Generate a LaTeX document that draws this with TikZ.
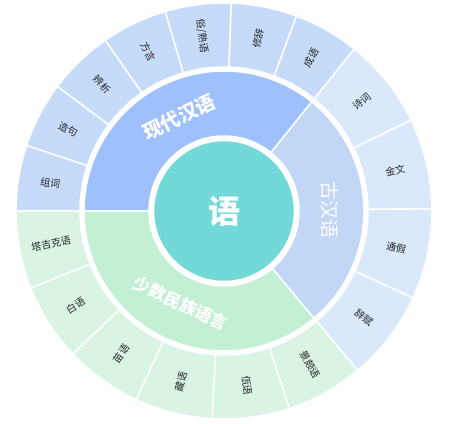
\documentclass[tikz,border=0pt]{standalone}
\usepackage{fontspec}
\setmainfont{Noto Sans CJK SC}
\usepackage{xcolor}
\usepackage{tikz}
\usetikzlibrary{positioning}
\definecolor{yucenter}{HTML}{72D9D8}
\definecolor{modernmid}{HTML}{9EC0FC}
\definecolor{modernleaf}{HTML}{C6DBFA}
\definecolor{classicmid}{HTML}{C2D6F5}
\definecolor{classicleaf}{HTML}{DAE8FC}
\definecolor{minormid}{HTML}{C3EFD4}
\definecolor{minorleaf}{HTML}{D9F4E3}

\tikzset{
  leaflabel/.style={font=\fontsize{10}{10}\selectfont, text=black!85, inner sep=1pt},
  ringlabel/.style={font=\fontsize{19.5}{20}\selectfont\bfseries, text=white, inner sep=1pt},
}

% sector: colour, start angle, end angle, inner radius, outer radius
\newcommand{\yuSector}[5]{%
  \fill[#1, draw=white, line width=1.5pt] (#2:#4pt) arc[start angle=#2, end angle=#3, radius=#4pt]
    -- (#3:#5pt) arc[start angle=#3, end angle=#2, radius=#5pt] -- cycle;}

\begin{document}
\begin{tikzpicture}
    \useasboundingbox (-224pt,-212pt) rectangle (230pt,211pt);

    % 现代汉语
    \yuSector{modernmid}{180}{51.2}{75}{140}
    \foreach \lab [count=\i from 0] in {组词,造句,辨析,方言,俗/熟语,修辞,成语} {
        \pgfmathsetmacro\aS{180-18.4*\i}
        \pgfmathsetmacro\aE{\aS-18.4}
        \pgfmathsetmacro\aM{\aS-9.2}
        \pgfmathsetmacro\rot{cos(\aM)<0 ? \aM+180 : \aM}
        \yuSector{modernleaf}{\aS}{\aE}{144}{208}
        \node[leaflabel, rotate=\rot] (m\i) at (\aM:176pt) {\lab};
    }

    % 古汉语
    \yuSector{classicmid}{51.2}{-50}{75}{140}
    \foreach \lab [count=\i from 0] in {诗词,金文,通假,辞赋} {
        \pgfmathsetmacro\aS{51.2-25.3*\i}
        \pgfmathsetmacro\aE{\aS-25.3}
        \pgfmathsetmacro\aM{\aS-12.65}
        \yuSector{classicleaf}{\aS}{\aE}{144}{208}
        \node[leaflabel, rotate=\aM] (c\i) at (\aM:176pt) {\lab};
    }

    % 少数民族语言
    \yuSector{minormid}{-50}{-180}{75}{140}
    \foreach \lab [count=\i from 0] in {景颇语,佤语,藏语,苗语,白语,塔吉克语} {
        \pgfmathsetmacro\aS{-50-21.667*\i}
        \pgfmathsetmacro\aE{\aS-21.667}
        \pgfmathsetmacro\aM{\aS-10.833}
        \pgfmathsetmacro\rot{cos(\aM)<0 ? \aM+180 : \aM}
        \yuSector{minorleaf}{\aS}{\aE}{144}{208}
        \node[leaflabel, rotate=\rot] (n\i) at (\aM:176pt) {\lab};
    }

    % ring labels
    \node[ringlabel, rotate=25.6] (modern) at (115.6:104pt) {现代汉语};
    \node[ringlabel, font=\fontsize{19}{20}\selectfont, rotate=-89.4] (classic) at (0.6:106pt) {古汉语};
    \node[ringlabel, font=\fontsize{17}{18}\selectfont\bfseries, rotate=-25] (minor) at (-115:102pt) {少数民族语言};

    % 语
    \fill[yucenter, draw=white, line width=2.5pt] (0,0) circle[radius=71pt];
    \node[font=\fontsize{32}{34}\selectfont\bfseries, text=white] (root) at (0,0) {语};
\end{tikzpicture}
\end{document}
